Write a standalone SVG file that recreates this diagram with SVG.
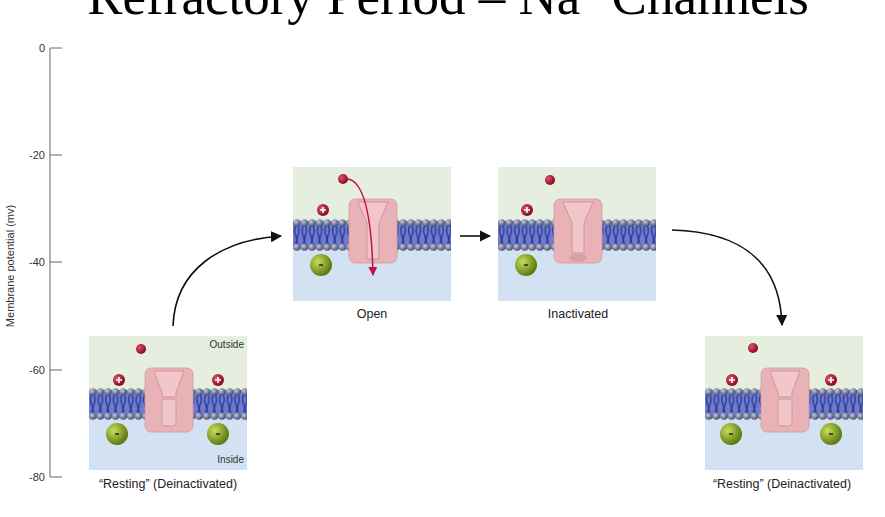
<svg xmlns="http://www.w3.org/2000/svg" width="885" height="517" viewBox="0 0 885 517">
<style>
.ax{stroke:#666;stroke-width:1;fill:none}
.tl{font-family:"Liberation Sans",Arial,sans-serif;font-size:11px;fill:#333}
.lb{font-family:"Liberation Sans",Arial,sans-serif;font-size:12.5px;fill:#222;text-anchor:middle}
.sm{font-family:"Liberation Sans",Arial,sans-serif;font-size:10px;fill:#333;text-anchor:end}
.con{stroke:#111;stroke-width:1.6;fill:none;marker-end:url(#ah)}
.ch{fill:#e9b2b6;stroke:#d59ba0;stroke-width:0.8}
.chi{fill:#f1c6c9;stroke:#c78e94;stroke-width:0.8}
</style>
<defs>
<marker id="ah" viewBox="0 0 10 10" refX="9" refY="5" markerWidth="7" markerHeight="7" orient="auto"><path d="M0,0L10,5L0,10z" fill="#111"/></marker>
<marker id="rh" viewBox="0 0 10 10" refX="9" refY="5" markerWidth="6" markerHeight="6" orient="auto"><path d="M0,0L10,5L0,10z" fill="#c2124a"/></marker>
<radialGradient id="rb" cx="35%" cy="35%" r="65%"><stop offset="0" stop-color="#e0506a"/><stop offset="1" stop-color="#8a0a1e"/></radialGradient>
<radialGradient id="gb" cx="35%" cy="35%" r="65%"><stop offset="0" stop-color="#c8de5a"/><stop offset="1" stop-color="#5e7a10"/></radialGradient>
<radialGradient id="hd" cx="35%" cy="35%" r="65%"><stop offset="0" stop-color="#c8cde0"/><stop offset="1" stop-color="#4a5070"/></radialGradient>
<pattern id="heads" x="0" y="52" width="7.6" height="32" patternUnits="userSpaceOnUse">
<circle cx="3.8" cy="3.8" r="3.6" fill="url(#hd)"/>
<circle cx="3.8" cy="28.2" r="3.6" fill="url(#hd)"/>
</pattern>
<pattern id="tails" x="0" y="52" width="7.6" height="32" patternUnits="userSpaceOnUse">
<path d="M2.5,7 q-2,4.5 0,9 t0,9 M5,7 q2,4.5 0,9 t0,9" stroke="#2c3aa0" stroke-width="1.4" fill="none"/>
</pattern>
<g id="mem">
<rect x="0" y="0" width="158" height="68" fill="#e6eedf"/>
<rect x="0" y="68" width="158" height="66" fill="#d2e2f2"/>
<rect x="0" y="54" width="158" height="28" fill="#6f7ccc"/>
<rect x="0" y="52" width="158" height="32" fill="url(#tails)"/>
<rect x="0" y="52" width="158" height="32" fill="url(#heads)"/>
</g>
<g id="plus"><circle r="6" fill="url(#rb)"/><path d="M-3,0h6M0,-3v6" stroke="#fff" stroke-width="1.6"/></g>
<g id="minus"><circle r="11" fill="url(#gb)"/><path d="M-2,0h4" stroke="#222" stroke-width="1.5"/></g>
<g id="na"><circle r="5" fill="url(#rb)"/></g>
<g id="chRest">
<rect x="56" y="32" width="48" height="64" rx="6" class="ch"/>
<path d="M65,35 L95,35 L87,57 L87,61 L73,61 L73,57 Z" class="chi"/>
<rect x="73" y="63" width="14" height="27" rx="3" class="chi"/>
</g>
<g id="chOpen">
<rect x="56" y="32" width="48" height="64" rx="6" class="ch"/>
<path d="M65,35 L95,35 L86,56 L86,92 L74,92 L74,56 Z" class="chi"/>
</g>
<g id="chInact">
<rect x="56" y="32" width="48" height="64" rx="6" class="ch"/>
<path d="M65,35 L95,35 L86,56 L86,86 L74,86 L74,56 Z" class="chi"/>
<ellipse cx="80" cy="91" rx="9" ry="4" fill="#d8a0a6"/>
</g>
</defs>

<text x="448" y="14" font-family="Liberation Serif,'Times New Roman',serif" font-size="53" text-anchor="middle" fill="#000">Refractory Period – Na<tspan font-size="32" dy="-20">+</tspan><tspan dy="20"> Channels</tspan></text>

<g id="axis">
<path class="ax" d="M50,48V477M50,48H62M50,155H62M50,262H62M50,370H62M50,477H62"/>
<text class="tl" x="45" y="52" text-anchor="end">0</text>
<text class="tl" x="45" y="159" text-anchor="end">-20</text>
<text class="tl" x="45" y="266" text-anchor="end">-40</text>
<text class="tl" x="45" y="374" text-anchor="end">-60</text>
<text class="tl" x="45" y="481" text-anchor="end">-80</text>
<text class="tl" transform="translate(14,266) rotate(-90)" text-anchor="middle">Membrane potential (mv)</text>
</g>

<g id="resting1" transform="translate(89,336)">
<use href="#mem"/><use href="#chRest"/>
<use href="#na" x="52" y="13"/><use href="#plus" x="30" y="44"/><use href="#plus" x="129" y="44"/>
<use href="#minus" x="28" y="98"/><use href="#minus" x="129" y="98"/>
<text class="sm" x="155" y="12">Outside</text>
<text class="sm" x="155" y="127">Inside</text>
<text class="lb" x="79" y="152">“Resting” (Deinactivated)</text>
</g>

<g id="open" transform="translate(293,167)">
<use href="#mem"/><use href="#chOpen"/>
<use href="#plus" x="30" y="43"/><use href="#minus" x="28" y="98"/>
<use href="#na" x="50" y="12"/>
<path d="M55,12 Q78,16 80,108" stroke="#c2124a" stroke-width="1.5" fill="none" marker-end="url(#rh)"/>
<text class="lb" x="79" y="151">Open</text>
</g>

<g id="inactivated" transform="translate(498,167)">
<use href="#mem"/><use href="#chInact"/>
<use href="#na" x="52" y="13"/><use href="#plus" x="29" y="43"/><use href="#minus" x="28" y="98"/>
<text class="lb" x="80" y="151">Inactivated</text>
</g>

<g id="resting2" transform="translate(705,336)">
<use href="#mem"/><use href="#chRest"/>
<use href="#na" x="48" y="12"/><use href="#plus" x="27" y="44"/><use href="#plus" x="126" y="44"/>
<use href="#minus" x="26" y="98"/><use href="#minus" x="126" y="98"/>
<text class="lb" x="77" y="152">“Resting” (Deinactivated)</text>
</g>

<g id="connectors">
<path class="con" d="M173,326 C175,270 220,240 281,236"/>
<path class="con" d="M460,236 L490,236"/>
<path class="con" d="M672,230 C740,232 780,260 782,325"/>
</g>
</svg>
